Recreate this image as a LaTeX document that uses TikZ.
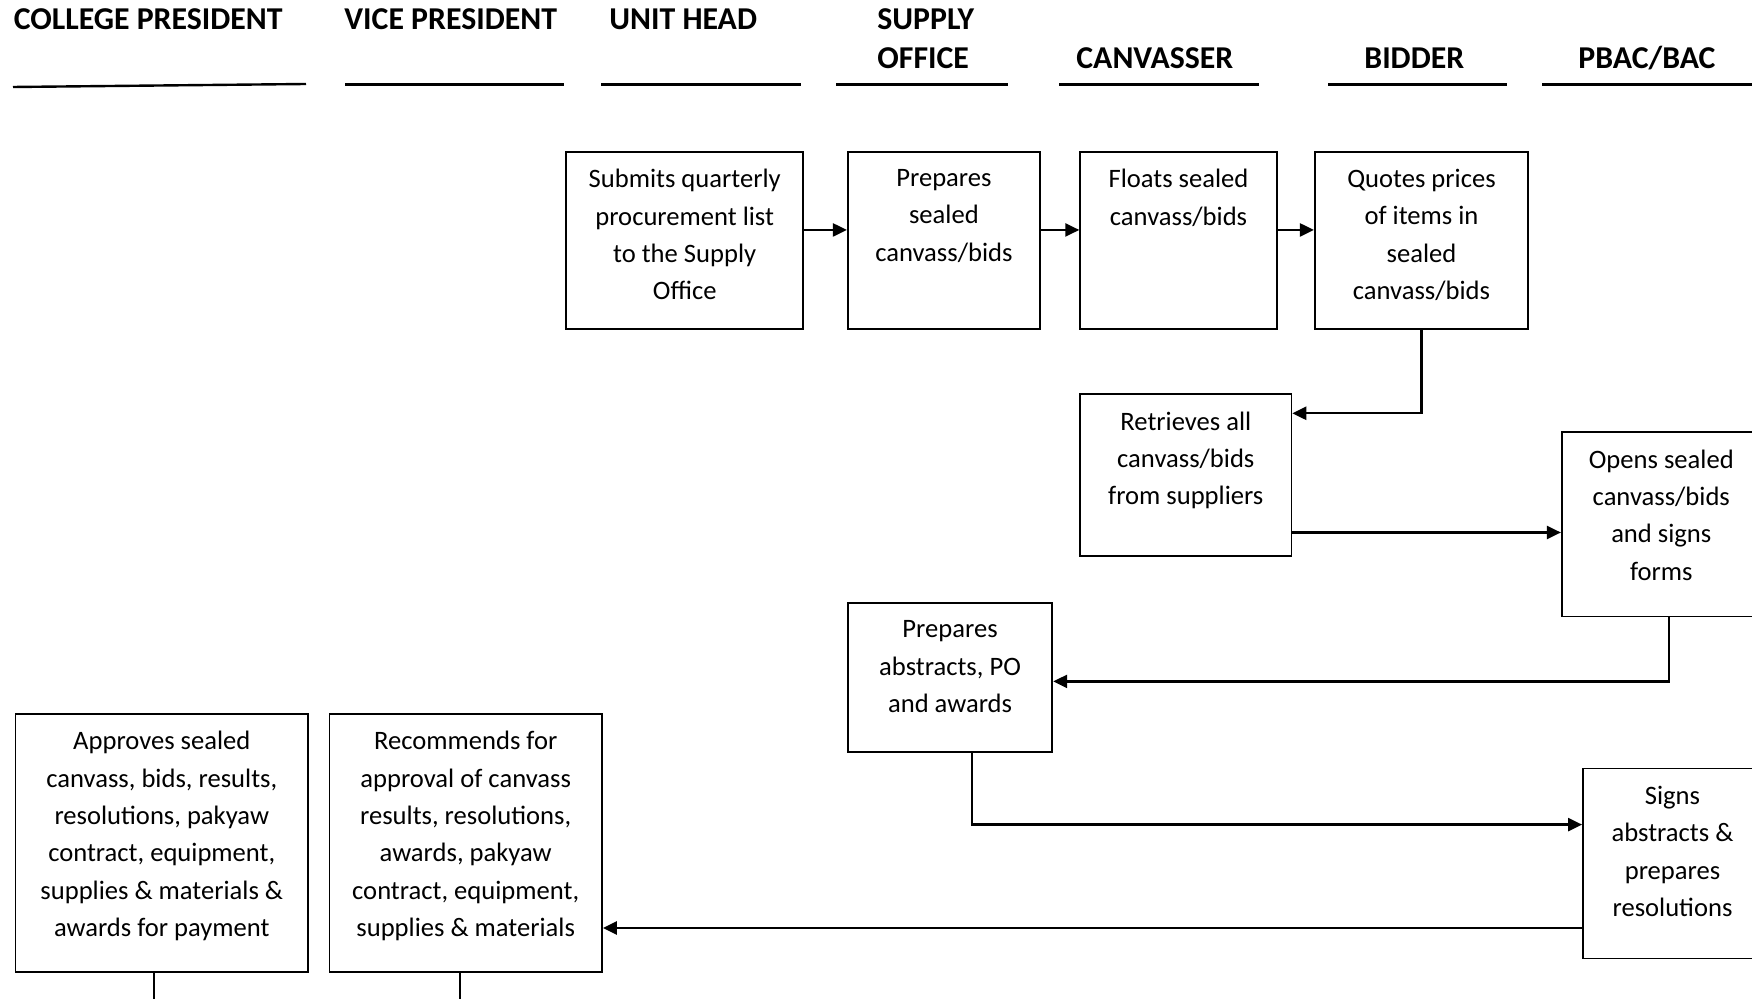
\documentclass[tikz,border=0pt]{standalone}
\usepackage{fontspec}
\setmainfont{Carlito}
\usetikzlibrary{arrows.meta,calc}
\begin{document}
\begin{tikzpicture}[x=0.5pt,y=-0.5pt,
  box/.style={draw,line width=0.9pt,rectangle,inner sep=0pt,anchor=north west},
  txt/.style={anchor=north,align=center,inner sep=0pt,font=\fontsize{13.3}{18.7}\selectfont},
  head/.style={anchor=base west,inner sep=0pt,font=\fontsize{15.9}{19.5}\selectfont\bfseries},
  rule/.style={line width=1.2pt},
  flow/.style={line width=1.2pt,-{Triangle[length=7pt,width=6.5pt]}},
  link/.style={line width=1pt}]
\useasboundingbox (0,0) rectangle (1752,999);
\clip (0,0) rectangle (1752,999);

% lane headings
\node[head] (hcp) at (13.4,30) {COLLEGE PRESIDENT};
\node[head] (hvp) at (344,30) {VICE PRESIDENT};
\node[head] (huh) at (609,30) {UNIT HEAD};
\node[head] (hso1) at (877,30) {SUPPLY};
\node[head] (hso2) at (877,69) {OFFICE};
\node[head] (hcv) at (1076,69) {CANVASSER};
\node[head] (hbd) at (1364,69) {BIDDER};
\node[head] (hpb) at (1578,69) {PBAC/BAC};

% heading rules
\draw[rule] (13,87) -- (306,84);
\draw[rule] (345,84.4) -- (564,84.4);
\draw[rule] (601,84.4) -- (801,84.4);
\draw[rule] (836,84.4) -- (1008,84.4);
\draw[rule] (1059,84.4) -- (1259,84.4);
\draw[rule] (1328,84.4) -- (1507,84.4);
\draw[rule] (1542,84.4) -- (1752,84.4);

% process boxes
\node[box,minimum width=118.4pt,minimum height=88.85pt] (sub) at (565.4,150.8) {};
\node[box,minimum width=96.1pt,minimum height=88.85pt] (prep) at (846.9,150.8) {};
\node[box,minimum width=98.35pt,minimum height=88.85pt] (float) at (1079.3,150.8) {};
\node[box,minimum width=106.7pt,minimum height=88.85pt] (quote) at (1313.9,150.8) {};
\node[box,minimum width=105.6pt,minimum height=81pt] (retr) at (1079.3,393.3) {};
\node[box,minimum width=99.5pt,minimum height=92.15pt] (opens) at (1560.9,431.3) {};
\node[box,minimum width=102.25pt,minimum height=74.3pt] (abst) at (846.9,602.2) {};
\node[box,minimum width=89.5pt,minimum height=94.95pt] (signs) at (1582.1,767.6) {};
\node[box,minimum width=136.3pt,minimum height=129.05pt] (recom) at (328.5,712.8) {};
\node[box,minimum width=146.4pt,minimum height=129.05pt] (appr) at (14.5,712.8) {};

% box texts
\node[txt] (subt) at ($(sub.north)+(0,18)$) {Submits quarterly\\procurement list\\to the Supply\\Office};
\node[txt] (prept) at ($(prep.north)+(0,18)$) {Prepares\\sealed\\canvass/bids};
\node[txt] (floatt) at ($(float.north)+(0,18)$) {Floats sealed\\canvass/bids};
\node[txt] (quotet) at ($(quote.north)+(0,18)$) {Quotes prices\\of items in\\sealed\\canvass/bids};
\node[txt] (retrt) at ($(retr.north)+(0,18)$) {Retrieves all\\canvass/bids\\from suppliers};
\node[txt] (openst) at ($(opens.north)+(0,18)$) {Opens sealed\\canvass/bids\\and signs\\forms};
\node[txt] (abstt) at ($(abst.north)+(0,18)$) {Prepares\\abstracts, PO\\and awards};
\node[txt] (signst) at ($(signs.north)+(0,18)$) {Signs\\abstracts \&\\prepares\\resolutions};
\node[txt] (recomt) at ($(recom.north)+(0,18)$) {Recommends for\\approval of canvass\\results, resolutions,\\awards, pakyaw\\contract, equipment,\\supplies \& materials};
\node[txt] (apprt) at ($(appr.north)+(0,18)$) {Approves sealed\\canvass, bids, results,\\resolutions, pakyaw\\contract, equipment,\\supplies \& materials \&\\awards for payment};

% connectors
\draw[flow] ([yshift=5.3pt]sub.east) -- ([yshift=5.3pt]prep.west);
\draw[flow] ([yshift=5.3pt]prep.east) -- ([yshift=5.3pt]float.west);
\draw[flow] ([yshift=5.3pt]float.east) -- ([yshift=5.3pt]quote.west);

\coordinate (q1) at ([yshift=-10pt]retr.north east);
\draw[flow] (quote.south) |- (q1);

\coordinate (r1) at ([yshift=12.3pt]retr.south east);
\draw[flow] (r1) -- (r1 -| opens.west);

\coordinate (o1) at ([xshift=3.8pt]opens.south);
\coordinate (a1) at ([yshift=-2pt]abst.east);
\draw[flow] (o1) |- (a1);

\coordinate (a2) at ([xshift=11pt]abst.south);
\coordinate (s1) at ([yshift=-28.5pt]signs.north west);
\draw[flow] (a2) |- (s1);

\coordinate (s2) at ([yshift=15.65pt]signs.south west);
\draw[flow] (s2) -- (s2 -| recom.east);

% lines leaving the page at the bottom
\coordinate (p1) at ([xshift=-3.9pt]appr.south);
\coordinate (p2) at ([xshift=-2.8pt]recom.south);
\draw[link] (p1) -- ++(0,40);
\draw[link] (p2) -- ++(0,40);
\end{tikzpicture}
\end{document}
